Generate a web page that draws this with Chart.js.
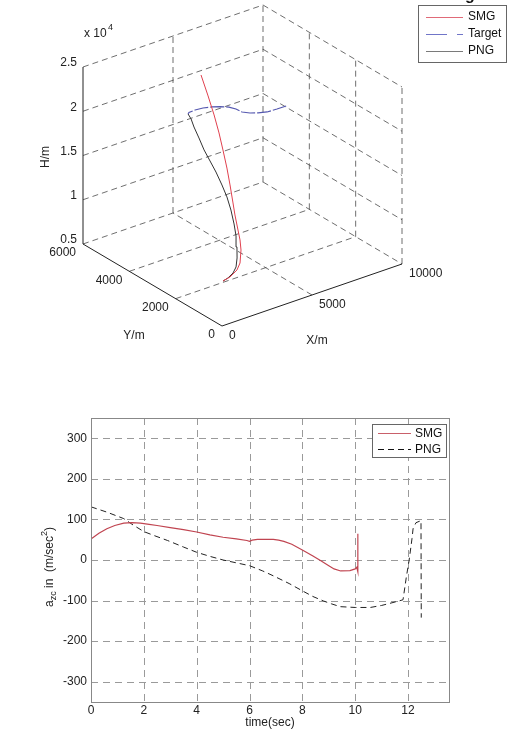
<!DOCTYPE html>
<html><head><meta charset="utf-8">
<script src="https://cdn.jsdelivr.net/npm/chart.js@4.4.0/dist/chart.umd.min.js"></script>
<style>
html,body{margin:0;padding:0;background:#fff;}
#wrap{position:relative;width:521px;height:738px;overflow:hidden;background:#fff;}
#c3d{position:absolute;left:0;top:0;}
#c2d{position:absolute;left:0;top:380px;}
</style></head><body>
<div id="wrap"><canvas id="c3d" width="521" height="370"></canvas><canvas id="c2d" width="521" height="358"></canvas></div>
<script>
// ===== 3D trajectory chart data =====
const xTicks3 = [0, 5000, 10000];
const yTicks3 = [0, 2000, 4000, 6000];
const zTicks3 = [5000, 10000, 15000, 20000, 25000];
const zTickLabels3 = ['0.5', '1', '1.5', '2', '2.5'];

const smgX = [2630,3030,3470,3730,3900,4000,4080,4130,4280,4410,4560,4700,4880,5030,5160,5270];
const smgY = [2000,2010,2050,2120,2210,2330,2480,2650,2850,3080,3330,3610,3920,4250,4610,5000];
const smgZ = [5150,5310,5730,6230,7440,8320,9160,10560,11500,13090,14510,16020,17340,18760,20260,21950];

const pngX = [2630,2920,3240,3470,3630,3740,3830,3900,3920,3930,3910,3860,3840,3830,3920,4030,4280,4550];
const pngY = [2000,2010,2040,2090,2170,2260,2370,2510,2660,2840,3040,3260,3500,3750,4040,4340,4660,5000];
const pngZ = [5150,5280,5570,6010,6790,7820,8830,9920,11250,12440,13500,14660,15550,16420,17260,17960,18200,18050];

const targetX = [10000,9490,8940,8440,7990,7550,7210,6820,6320,5880,5380,4940,4600,4550];
const targetY = [5000,5000,5000,5000,5000,5000,5000,5000,5000,5000,5000,5000,5000,5000];
const targetZ = [15130,15150,15200,15440,15750,16170,16750,17240,17650,17910,18140,18230,18180,18050];

// ===== acceleration chart data =====
const timeTicks = [0, 2, 4, 6, 8, 10, 12];
const accTicks = [300, 200, 100, 0, -100, -200, -300];
const smgT = [0,0.3,0.6,0.9,1.24,1.55,1.87,2.2,2.5,3,3.5,4,4.5,5,5.5,5.9,6,6.1,6.3,6.6,6.9,7.1,7.3,7.6,8.05,8.4,8.7,9,9.2,9.45,9.8,10,10.06,10.1,10.1];
const smgA = [52,66,77,85,91,92,91,88,85,80,75,69,62,56,52,48,46,49,51,51,51,49,46,39,23,10,-2,-14,-22,-27,-26,-22,-18,-29,65];
const pngT = [0,0.6,1.24,1.6,2,2.4,2.9,3.5,4,4.5,5,5.5,6,6.5,6.9,7.5,8,8.4,8.8,9.1,9.43,10,10.57,11,11.3,11.6,11.81,11.94,12.04,12.15,12.19,12.3,12.49,12.5];
const pngA = [131,118,102,86,70,60,48,32,19,9,0,-7,-14,-27,-39,-58,-76,-90,-101,-108,-115,-117,-117,-112,-107,-102,-98,-40,-1,53,77,92,97,-142];

const FONT = '"Liberation Sans", Arial, Helvetica, sans-serif';
Chart.defaults.font.family = FONT;
Chart.defaults.font.size = 12;
Chart.defaults.color = '#222';

// ===== projection for the 3D view =====
const ORIGIN = {x: 222, y: 326};
const EX = {x: 180 / 10000, y: -62 / 10000};
const EY = {x: -139 / 6000, y: -82 / 6000};
const EZ = -177 / 20000;
const Zmin = zTicks3[0], Zmax = zTicks3[zTicks3.length - 1];
const Xmax = xTicks3[xTicks3.length - 1], Ymax = yTicks3[yTicks3.length - 1];
function proj(X, Y, Z) {
  return {x: ORIGIN.x + X * EX.x + Y * EY.x, y: ORIGIN.y + X * EX.y + Y * EY.y + (Z - Zmin) * EZ};
}
function path(xs, ys, zs) { return xs.map((x, i) => proj(x, ys[i], zs[i])); }

const gridSegs = [];
zTicks3.forEach(z => gridSegs.push([[0, Ymax, z], [Xmax, Ymax, z]]));
xTicks3.slice(1).forEach(x => gridSegs.push([[x, Ymax, Zmin], [x, Ymax, Zmax]]));
zTicks3.forEach(z => gridSegs.push([[Xmax, Ymax, z], [Xmax, 0, z]]));
yTicks3.slice(0, -1).forEach(y => gridSegs.push([[Xmax, y, Zmin], [Xmax, y, Zmax]]));
yTicks3.slice(1, -1).forEach(y => gridSegs.push([[0, y, Zmin], [Xmax, y, Zmin]]));
xTicks3.slice(1, -1).forEach(x => gridSegs.push([[x, 0, Zmin], [x, Ymax, Zmin]]));
const axisSegs = [
  [[0, Ymax, Zmin], [0, Ymax, Zmax]],
  [[0, Ymax, Zmin], [0, 0, Zmin]],
  [[0, 0, Zmin], [Xmax, 0, Zmin]]
];

const ds3 = [
  {data: path(smgX, smgY, smgZ), borderColor: '#e0404e', borderWidth: 1},
  {data: path(targetX, targetY, targetZ), borderColor: '#5558b0', borderWidth: 1.2, borderDash: [14, 2]},
  {data: path(pngX, pngY, pngZ), borderColor: '#333', borderWidth: 1}
];
axisSegs.forEach(s => ds3.push({data: s.map(p => proj(...p)), borderColor: '#222', borderWidth: 1}));
gridSegs.forEach(s => ds3.push({data: s.map(p => proj(...p)), borderColor: '#4a4a4a', borderWidth: 0.8, borderDash: [6, 4]}));
ds3.forEach(d => { d.showLine = true; d.pointRadius = 0; d.tension = 0; d.fill = false; });

const labels3d = {
  id: 'labels3d',
  afterDraw(chart) {
    const ctx = chart.ctx;
    ctx.save();
    // clipped letter from the text above the figure
    ctx.fillStyle = '#111';
    ctx.font = 'bold 16px ' + FONT;
    ctx.textAlign = 'center';
    ctx.textBaseline = 'alphabetic';
    ctx.fillText('g', 470, -0.5);
    ctx.fillStyle = '#222';
    ctx.font = '12px ' + FONT;
    ctx.textBaseline = 'middle';
    ctx.textAlign = 'right';
    zTicks3.forEach((z, i) => { const p = proj(0, Ymax, z); ctx.fillText(zTickLabels3[i], p.x - 6, p.y - 4); });
    yTicks3.forEach(y => { const p = proj(0, y, Zmin); ctx.fillText(String(y), p.x - 7, p.y + 9); });
    ctx.textAlign = 'left';
    xTicks3.forEach(x => { const p = proj(x, 0, Zmin); ctx.fillText(String(x), p.x + 7, p.y + 10); });
    // exponent
    ctx.fillText('x 10', 84, 34);
    ctx.font = '9px ' + FONT;
    ctx.fillText('4', 108, 28);
    ctx.font = '12px ' + FONT;
    ctx.textAlign = 'center';
    ctx.fillText('Y/m', 134, 336);
    ctx.fillText('X/m', 317, 341);
    ctx.save();
    ctx.translate(46, 157);
    ctx.rotate(-Math.PI / 2);
    ctx.fillText('H/m', 0, 0);
    ctx.restore();
    // legend
    ctx.fillStyle = '#fff';
    ctx.fillRect(418.5, 5.5, 88, 57);
    ctx.strokeStyle = '#666';
    ctx.lineWidth = 1;
    ctx.strokeRect(418.5, 5.5, 88, 57);
    const ent = [
      {t: 'SMG', c: '#e06a78', d: [], y: 17},
      {t: 'Target', c: '#7075c8', d: [21, 10], y: 34},
      {t: 'PNG', c: '#7a7a7a', d: [], y: 51}
    ];
    ent.forEach(e => {
      ctx.strokeStyle = e.c; ctx.setLineDash(e.d); ctx.lineWidth = 1.2;
      ctx.beginPath(); ctx.moveTo(426, e.y + 0.5); ctx.lineTo(463, e.y + 0.5); ctx.stroke();
      ctx.setLineDash([]);
      ctx.fillStyle = '#111'; ctx.textAlign = 'left';
      ctx.fillText(e.t, 468, e.y);
    });
    ctx.restore();
  }
};

new Chart(document.getElementById('c3d'), {
  type: 'scatter',
  data: {datasets: ds3},
  options: {
    responsive: false, animation: false,
    layout: {padding: 0},
    plugins: {legend: {display: false}, tooltip: {enabled: false}},
    scales: {
      x: {type: 'linear', min: 0, max: 521, display: false},
      y: {type: 'linear', min: 0, max: 370, reverse: true, display: false}
    }
  },
  plugins: [labels3d]
});

// ===== 2D acceleration chart =====
const grid2d = {
  id: 'grid2d',
  beforeDatasetsDraw(chart) {
    const {ctx, chartArea: a, scales} = chart;
    ctx.save();
    ctx.strokeStyle = '#9a9a9a';
    ctx.lineWidth = 1;
    ctx.setLineDash([7, 5]);
    timeTicks.forEach(t => {
      const x = Math.round(scales.x.getPixelForValue(t)) + 0.5;
      ctx.beginPath(); ctx.moveTo(x, a.top); ctx.lineTo(x, a.bottom); ctx.stroke();
    });
    accTicks.forEach(v => {
      const y = Math.round(scales.y.getPixelForValue(v)) + 0.5;
      ctx.beginPath(); ctx.moveTo(a.left, y); ctx.lineTo(a.right, y); ctx.stroke();
    });
    ctx.restore();
  },
  afterDraw(chart) {
    const {ctx, chartArea: a} = chart;
    ctx.save();
    ctx.strokeStyle = '#888';
    ctx.lineWidth = 1;
    ctx.strokeRect(Math.round(a.left) + 0.5, Math.round(a.top) + 0.5, Math.round(a.right - a.left), Math.round(a.bottom - a.top));
    // legend
    const L = 372.5, T = 44.5, W = 74, H = 33;
    ctx.fillStyle = '#fff';
    ctx.fillRect(L, T, W, H);
    ctx.strokeStyle = '#666';
    ctx.strokeRect(L, T, W, H);
    ctx.font = '12px ' + FONT;
    ctx.textBaseline = 'middle';
    ctx.textAlign = 'left';
    const ent = [
      {t: 'SMG', c: '#c9606a', d: [], y: 53.5, w: 1.1},
      {t: 'PNG', c: '#111', d: [6, 4], y: 69.5, w: 1.2}
    ];
    ent.forEach(e => {
      ctx.strokeStyle = e.c; ctx.setLineDash(e.d); ctx.lineWidth = e.w;
      ctx.beginPath(); ctx.moveTo(378, e.y); ctx.lineTo(411, e.y); ctx.stroke();
      ctx.setLineDash([]);
      ctx.fillStyle = '#111';
      ctx.fillText(e.t, 415, e.y);
    });
    // y title with subscript / superscript
    ctx.save();
    ctx.translate(50, 187);
    ctx.rotate(-Math.PI / 2);
    const parts = [
      {s: 'a', f: 12, dy: 0},
      {s: 'zc', f: 9, dy: 4},
      {s: ' in  (m/sec', f: 12, dy: 0},
      {s: '2', f: 9, dy: -5},
      {s: ')', f: 12, dy: 0}
    ];
    let total = 0;
    parts.forEach(p => { ctx.font = p.f + 'px ' + FONT; p.w = ctx.measureText(p.s).width; total += p.w; });
    let x = -total / 2;
    ctx.fillStyle = '#222';
    parts.forEach(p => { ctx.font = p.f + 'px ' + FONT; ctx.fillText(p.s, x, p.dy); x += p.w; });
    ctx.restore();
    ctx.restore();
  }
};

new Chart(document.getElementById('c2d'), {
  type: 'scatter',
  data: {datasets: [
    {label: 'SMG', data: smgT.map((t, i) => ({x: t, y: smgA[i]})), showLine: true, borderColor: '#c04450', borderWidth: 1.2, pointRadius: 0, tension: 0},
    {label: 'PNG', data: pngT.map((t, i) => ({x: t, y: pngA[i]})), showLine: true, borderColor: '#222', borderWidth: 1, borderDash: [6, 4], pointRadius: 0, tension: 0}
  ]},
  options: {
    responsive: false, animation: false,
    layout: {padding: {left: 0, top: 38, right: 72, bottom: 0}},
    plugins: {legend: {display: false}, tooltip: {enabled: false}},
    scales: {
      x: {
        type: 'linear', min: 0, max: 13.55,
        afterBuildTicks: s => { s.ticks = timeTicks.map(v => ({value: v})); },
        afterFit: s => { s.height = 36; },
        grid: {display: false, drawTicks: false},
        border: {display: false},
        ticks: {color: '#222', padding: 1, maxRotation: 0, autoSkip: false, font: {size: 12}},
        title: {display: true, text: 'time(sec)', color: '#222', font: {size: 12}, padding: {top: 0, bottom: 8}}
      },
      y: {
        type: 'linear', min: -350, max: 350,
        afterBuildTicks: s => { s.ticks = accTicks.map(v => ({value: v})); },
        afterFit: s => { s.width = 91; },
        grid: {display: false, drawTicks: false},
        border: {display: false},
        ticks: {color: '#222', padding: 4, autoSkip: false, font: {size: 12}}
      }
    }
  },
  plugins: [grid2d]
});
</script>
</body></html>
